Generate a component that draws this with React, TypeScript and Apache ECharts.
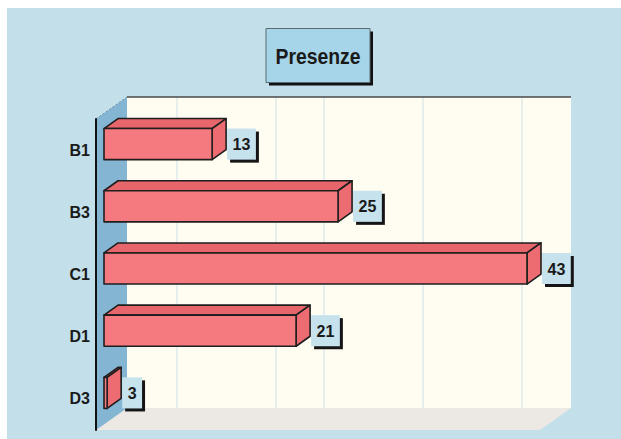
import React, { useEffect, useRef } from "react";
import * as echarts from "echarts";

// ---- data ----
const categories = ["B1", "B3", "C1", "D1", "D3"];
const values = [13, 25, 43, 21, 3];
const titleText = "Presenze";
const axisMin = 2.7;
const axisMax = 45;

// ---- layout (pixels) ----
const L = {
  gridLeft: 96,
  gridTop: 119,
  gridRight: 81,
  gridBottom: 9,
  wallDX: 31,
  wallDY: -22,
  barFrontDX: 8,
  barFrontDY: -6,
  barDepthDX: 14,
  barDepthDY: -10,
  barRatio: 0.5,
};
const backGridX = [177, 276, 324, 423, 522];

const C = {
  bg: "#c3e0ea",
  leftWall: "#84b5d3",
  backWall: "#fffcf1",
  floor: "#ece8e4",
  grid: "#cfe1ea",
  front: "#f47a80",
  top: "#e6666c",
  side: "#ec6c72",
  edge: "#1e1e1e",
  box: "#c6e2ed",
  titleBox: "#a6d4e8",
  text: "#1a1a1a",
};

const VALUE_FONT = "bold 16px 'Liberation Sans', Arial, sans-serif";

function measure(text: string, font: string): number {
  try {
    const ctx = document.createElement("canvas").getContext("2d");
    if (ctx) {
      ctx.font = font;
      return ctx.measureText(text).width;
    }
  } catch (e) {}
  return text.length * 9;
}

export default function App() {
  const ref = useRef<HTMLDivElement>(null);
  useEffect(() => {
    if (!ref.current) return;
    const chart = echarts.init(ref.current, null, { renderer: "svg" });

    const fx = L.gridLeft;
    const fyTop = L.gridTop;
    const fyBot = 439 - L.gridBottom;
    const fxRight = 621 - L.gridRight;
    const bxL = fx + L.wallDX;
    const bxR = fxRight + L.wallDX;
    const byT = fyTop + L.wallDY;
    const byB = fyBot + L.wallDY;

    const graphics: any[] = [
      { type: "rect", z: -20, shape: { x: 7, y: 8, width: 614, height: 431 }, style: { fill: C.bg } },
      { type: "rect", z: -19, shape: { x: bxL, y: byT, width: bxR - bxL, height: byB - byT }, style: { fill: C.backWall } },
      ...backGridX.map((x) => ({
        type: "line", z: -18,
        shape: { x1: x, y1: byT, x2: x, y2: byB },
        style: { stroke: C.grid, lineWidth: 1 },
      })),
      {
        type: "polygon", z: -18,
        shape: { points: [[fx, fyBot], [fxRight, fyBot], [bxR, byB], [bxL, byB]] },
        style: { fill: C.floor },
      },
      {
        type: "polygon", z: -17,
        shape: { points: [[fx, fyTop], [bxL, byT], [bxL, byB], [fx, fyBot]] },
        style: { fill: C.leftWall },
      },
      {
        type: "line", z: -16,
        shape: { x1: bxL, y1: byT, x2: bxR, y2: byT },
        style: { stroke: "#4a4a4a", lineWidth: 1.5 },
      },
      {
        type: "line", z: -16,
        shape: { x1: fx, y1: fyTop, x2: bxL, y2: byT },
        style: { stroke: "#6f8fa3", lineWidth: 1, lineDash: [2, 2] },
      },
      // title box
      { type: "rect", z: 20, shape: { x: 269, y: 31.5, width: 104, height: 54 }, style: { fill: "#111" } },
      {
        type: "rect", z: 21,
        shape: { x: 266, y: 28.5, width: 104, height: 54 },
        style: { fill: C.titleBox, stroke: "#5a6a72", lineWidth: 1 },
      },
      {
        type: "text", z: 22, x: 318, y: 56, scaleX: 0.88,
        style: {
          text: titleText,
          font: "bold 22px 'Liberation Sans', Arial, sans-serif",
          fill: C.text, align: "center", verticalAlign: "middle",
        },
      },
    ];

    const renderItem = (params: any, api: any) => {
      const v = api.value(0);
      const ci = api.value(1);
      const p0 = api.coord([axisMin, ci]);
      const p1 = api.coord([v, ci]);
      const bandH = api.size([0, 1])[1];
      const h = bandH * L.barRatio;
      const x0 = p0[0] + L.barFrontDX;
      const x1 = p1[0] + L.barFrontDX;
      const cy = p0[1] + L.barFrontDY;
      const y0 = cy - h / 2;
      const y1 = cy + h / 2;
      const dx = L.barDepthDX;
      const dy = L.barDepthDY;
      const edge = { stroke: C.edge, lineWidth: 1.6, lineJoin: "round" };
      const label = String(values[params.dataIndex]);
      const boxW = measure(label, VALUE_FONT) + 11;
      const lx = x1 + dx + 1;
      return {
        type: "group",
        children: [
          {
            type: "polygon",
            shape: { points: [[x0, y0], [x1, y0], [x1 + dx, y0 + dy], [x0 + dx, y0 + dy]] },
            style: { fill: C.top, ...edge },
          },
          {
            type: "polygon",
            shape: { points: [[x1, y0], [x1 + dx, y0 + dy], [x1 + dx, y1 + dy], [x1, y1]] },
            style: { fill: C.side, ...edge },
          },
          {
            type: "rect",
            shape: { x: x0, y: y0, width: x1 - x0, height: y1 - y0 },
            style: { fill: C.front, ...edge },
          },
          {
            type: "rect",
            shape: { x: lx + 3, y: y0 + 3, width: boxW, height: h },
            style: { fill: "#151515" },
          },
          {
            type: "rect",
            shape: { x: lx, y: y0, width: boxW, height: h },
            style: { fill: C.box },
          },
          {
            type: "text", x: lx + boxW / 2, y: cy + 0.5,
            style: {
              text: label, font: VALUE_FONT, fill: C.text,
              align: "center", verticalAlign: "middle",
            },
          },
        ],
      };
    };

    chart.setOption({
      animation: false,
      backgroundColor: "#ffffff",
      graphic: { elements: graphics },
      grid: { left: L.gridLeft, top: L.gridTop, right: L.gridRight, bottom: L.gridBottom, containLabel: false },
      xAxis: {
        type: "value", min: axisMin, max: axisMax, show: false,
        splitLine: { show: false },
      },
      yAxis: {
        type: "category", data: categories, inverse: true, z: 10,
        axisLine: { show: true, lineStyle: { color: "#111", width: 2 } },
        axisTick: { show: false },
        splitLine: { show: false },
        axisLabel: {
          color: C.text, fontWeight: "bold", fontSize: 16, margin: 6,
          fontFamily: "'Liberation Sans', Arial, sans-serif",
        },
      },
      series: [
        {
          type: "custom",
          z: 5,
          renderItem,
          encode: { x: 0, y: 1 },
          data: values.map((v, i) => [v, i]),
        },
      ],
    });
    return () => chart.dispose();
  }, []);
  return (
    <div
      ref={ref}
      style={{ position: "absolute", left: 0, top: 0, width: 621, height: 439 }}
    />
  );
}
